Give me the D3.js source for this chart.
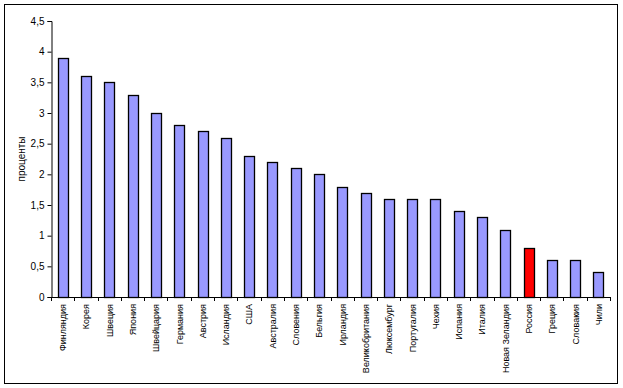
<!DOCTYPE html>
<html><head><meta charset="utf-8">
<script src="https://cdn.jsdelivr.net/npm/d3@7"></script>
<style>body{margin:0;background:#fff}svg{display:block}text{font-family:"Liberation Sans",Arial,sans-serif}</style>
</head><body>
<svg id="c" width="623" height="388"></svg>
<script>
const categories = ["Финляндия","Корея","Швеция","Япония","Швейцария","Германия","Австрия","Исландия","США","Австралия","Словения","Бельгия","Ирландия","Великобритания","Люксембург","Португалия","Чехия","Испания","Италия","Новая Зеландия","Россия","Греция","Словакия","Чили"];
const values = [3.9,3.6,3.5,3.3,3.0,2.8,2.7,2.6,2.3,2.2,2.1,2.0,1.8,1.7,1.6,1.6,1.6,1.4,1.3,1.1,0.8,0.6,0.6,0.4];
const highlight = "Россия";
const yTicks = [0,0.5,1,1.5,2,2.5,3,3.5,4,4.5];
const yTitle = "проценты";

const svg = d3.select("#c");
svg.append("rect").attr("x",4.5).attr("y",4.5).attr("width",613).attr("height",379)
  .attr("fill","#fff").attr("stroke","#000").attr("stroke-width",1);

const m = {l:51, r:610, t:21, b:297};
const x = d3.scaleBand().domain(categories).range([m.l, m.r]).paddingInner(0.58).paddingOuter(0.29);
const y = d3.scaleLinear().domain([0,4.5]).range([m.b, m.t]);
const fmt = d => String(d).replace(".", ",");

svg.append("g").selectAll("rect").data(categories).join("rect")
  .attr("x", d => Math.round(x(d))+0.5)
  .attr("y", (d,i) => Math.round(y(values[i]))+0.5)
  .attr("width", Math.round(x.bandwidth()))
  .attr("height", (d,i) => Math.round(y(0)) - Math.round(y(values[i])))
  .attr("fill", d => d===highlight ? "#FF0000" : "#9999FF")
  .attr("stroke","#000").attr("stroke-width",1.3);

const ya = svg.append("g").attr("transform",`translate(${m.l+0.5},0)`)
  .call(d3.axisLeft(y).tickValues(yTicks).tickFormat(fmt).tickSize(4).tickPadding(3));
ya.select(".domain").attr("stroke","#000");
ya.selectAll("text").attr("font-size",10).attr("fill","#000");

// x axis with ticks between categories
const xa = svg.append("g");
xa.append("line").attr("x1",m.l).attr("x2",m.r).attr("y1",m.b+0.5).attr("y2",m.b+0.5).attr("stroke","#000");
const step = x.step();
const bounds = d3.range(categories.length+1).map(i => m.l + i*(m.r-m.l)/categories.length);
xa.selectAll("line.t").data(bounds).join("line").attr("class","t")
  .attr("x1",d=>Math.round(d)+0.5).attr("x2",d=>Math.round(d)+0.5).attr("y1",m.b).attr("y2",m.b+4).attr("stroke","#000");
xa.selectAll("text").data(categories).join("text")
  .attr("transform", d => `translate(${x(d)+x.bandwidth()/2+3.5},${m.b+7}) rotate(-90)`)
  .attr("text-anchor","end").attr("font-size",9).attr("fill","#000").text(d=>d);

svg.append("text").attr("transform",`translate(25,159) rotate(-90)`).attr("text-anchor","middle")
  .attr("font-size",10).attr("fill","#000").text(yTitle);
</script>
</body></html>
